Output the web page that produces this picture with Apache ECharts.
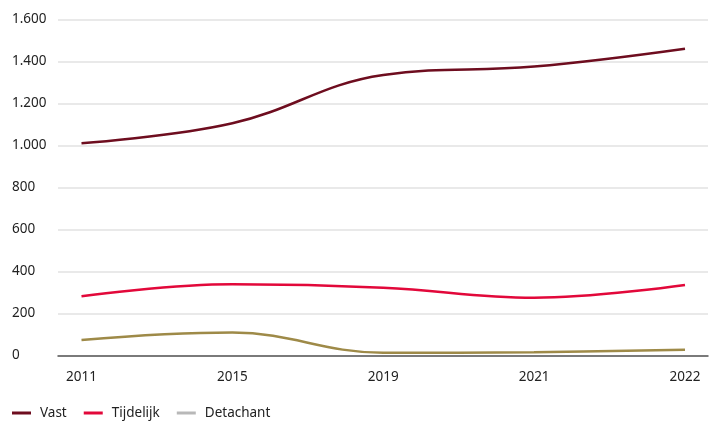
<!DOCTYPE html>
<html>
<head>
<meta charset="utf-8">
<script src="https://cdn.jsdelivr.net/npm/echarts@6/dist/echarts.min.js"></script>
<style>
  html, body { margin: 0; padding: 0; background: #ffffff; }
  #chart { width: 712px; height: 425px; }
</style>
</head>
<body>
<div id="chart"></div>
<script>
// Workforce by contract type
const years = ['2011', '2015', '2019', '2021', '2022'];
const vast = [1010, 1105, 1335, 1375, 1460];
const tijdelijk = [281, 338, 322, 274, 335];
const detachant = [73, 108, 12, 15, 27];
const yTicks = [0, 200, 400, 600, 800, 1000, 1200, 1400, 1600];

const FONT = '"Noto Sans", sans-serif';
const TEXT = '#222222';

function thousands(v) {
  return String(v).replace(/\B(?=(\d{3})+(?!\d))/g, '.');
}

const chart = echarts.init(document.getElementById('chart'), null, { renderer: 'canvas' });

chart.setOption({
  animation: false,
  backgroundColor: '#ffffff',
  textStyle: { fontFamily: FONT },
  grid: [
    // data area (category points inset from the frame)
    { left: 81.5, right: 27, top: 19.3, bottom: 69.7 },
    // frame holding gridlines, value labels and baseline
    { left: 58, right: 4, top: 19.3, bottom: 69.7 }
  ],
  xAxis: [
    {
      gridIndex: 0,
      type: 'category',
      data: years,
      boundaryGap: false,
      axisLine: { show: false },
      axisTick: { show: false },
      axisLabel: { color: TEXT, fontSize: 13.5, fontFamily: FONT, margin: 15 }
    },
    {
      gridIndex: 1,
      type: 'value',
      min: 0,
      max: 1,
      axisLine: { show: true, lineStyle: { color: '#555555', width: 1.5 } },
      axisTick: { show: false },
      axisLabel: { show: false },
      splitLine: { show: false }
    }
  ],
  yAxis: [
    {
      gridIndex: 0,
      type: 'value',
      min: yTicks[0],
      max: yTicks[yTicks.length - 1],
      show: false
    },
    {
      gridIndex: 1,
      type: 'value',
      min: yTicks[0],
      max: yTicks[yTicks.length - 1],
      interval: yTicks[1] - yTicks[0],
      axisLine: { show: false },
      axisTick: { show: false },
      splitLine: { lineStyle: { color: '#e2e2e2', width: 1.5 } },
      axisLabel: {
        color: TEXT,
        fontSize: 13.5,
        fontFamily: FONT,
        align: 'left',
        margin: 46,
        verticalAlign: 'middle',
        padding: [0, 0, 9, 0],
        formatter: thousands
      }
    }
  ],
  legend: {
    left: 12,
    top: 406,
    padding: 0,
    icon: 'rect',
    itemWidth: 19,
    itemHeight: 3,
    itemGap: 17,
    textStyle: { color: TEXT, fontSize: 13.5, fontFamily: FONT, padding: [0, 0, 0, 4] },
    data: [
      { name: 'Vast' },
      { name: 'Tijdelijk' },
      { name: 'Detachant', itemStyle: { color: '#b8b8b8' } }
    ]
  },
  series: [
    {
      name: 'Vast',
      type: 'line',
      xAxisIndex: 0,
      yAxisIndex: 0,
      data: vast,
      smooth: 0.4,
      showSymbol: false,
      color: '#6e0d1f',
      lineStyle: { width: 2.5, color: '#6e0d1f' }
    },
    {
      name: 'Tijdelijk',
      type: 'line',
      xAxisIndex: 0,
      yAxisIndex: 0,
      data: tijdelijk,
      smooth: 0.4,
      showSymbol: false,
      color: '#e2083a',
      lineStyle: { width: 2.5, color: '#e2083a' }
    },
    {
      name: 'Detachant',
      type: 'line',
      xAxisIndex: 0,
      yAxisIndex: 0,
      data: detachant,
      smooth: 0.4,
      showSymbol: false,
      color: '#9e8a48',
      lineStyle: { width: 2.5, color: '#9e8a48' }
    }
  ]
});
</script>
</body>
</html>
